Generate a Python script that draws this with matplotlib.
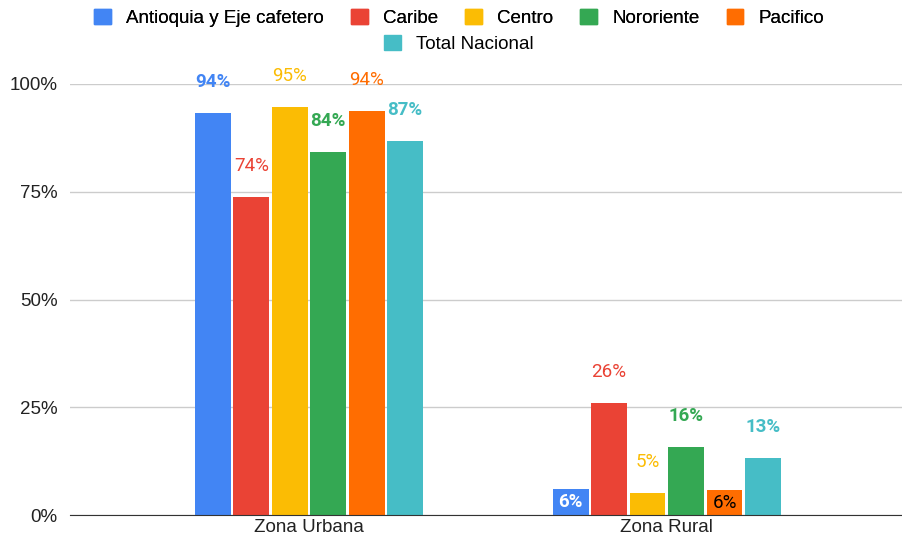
import matplotlib
matplotlib.use('Agg')
import matplotlib.pyplot as plt
from matplotlib.patches import Patch
import numpy as np

# Data
zonas = ['Zona Urbana', 'Zona Rural']
regiones = ['Antioquia y Eje cafetero', 'Caribe', 'Centro', 'Nororiente', 'Pacifico', 'Total Nacional']
urbana = [0.933, 0.738, 0.947, 0.842, 0.937, 0.868]
rural = [0.060, 0.260, 0.051, 0.158, 0.058, 0.132]
etiquetas_urbana = ['94%', '74%', '95%', '84%', '94%', '87%']
etiquetas_rural = ['6%', '26%', '5%', '16%', '6%', '13%']

colores = ['#4285F4', '#EA4335', '#FBBC04', '#34A853', '#FF6D01', '#46BDC6']
negrita = [True, False, False, True, False, True]

W, H = 903, 541
fig = plt.figure(figsize=(W / 100, H / 100), dpi=100)
ax = fig.add_axes([70 / W, 26 / H, (903 - 70) / W, 431 / H])

x = np.arange(len(zonas))
ancho = 0.1
paso = 0.1075
valores = np.array([urbana, rural])  # shape (zonas, regiones)
fs = 13.5

for i, reg in enumerate(regiones):
    pos = x + (i - 2.5) * paso
    ax.bar(pos, valores[:, i], width=ancho, color=colores[i], zorder=3)
    for j in range(len(zonas)):
        v = valores[j, i]
        txt = (etiquetas_urbana if j == 0 else etiquetas_rural)[i]
        peso = 'bold' if negrita[i] else 'normal'
        if j == 1 and i == 0:
            ax.text(pos[j], v / 2, txt, ha='center', va='center', color='white',
                    fontsize=fs, fontweight='bold', family='Roboto', zorder=4)
        elif j == 1 and i == 4:
            ax.text(pos[j], v / 2, txt, ha='center', va='center', color='black',
                    fontsize=fs, family='Roboto', zorder=4)
        else:
            ax.text(pos[j], v + 0.072, txt, ha='center', va='center', color=colores[i],
                    fontsize=fs, fontweight=peso, family='Roboto', zorder=4, clip_on=False)

ax.set_xlim(-0.668, 1.66)
ax.set_ylim(0, 1.0)
ax.set_yticks([0, 0.25, 0.5, 0.75, 1.0])
ax.set_yticklabels(['0%', '25%', '50%', '75%', '100%'], fontsize=fs, family='Liberation Sans')
ax.set_xticks(x)
ax.set_xticklabels(zonas, fontsize=fs, family='Liberation Sans')
ax.tick_params(axis='both', length=0, colors='#222222')
ax.tick_params(axis='y', pad=9)
ax.tick_params(axis='x', pad=3)
ax.grid(axis='y', color='#cccccc', linewidth=1, zorder=0)
for s in ['top', 'right', 'left']:
    ax.spines[s].set_visible(False)
ax.spines['bottom'].set_color('#333333')
ax.spines['bottom'].set_zorder(5)

# Legend in two rows
handles = [Patch(color=c) for c in colores]
leg1 = fig.legend(handles[:5], regiones[:5], loc='center', bbox_to_anchor=(459 / W, 1 - 18 / H),
                  ncol=5, frameon=False, handlelength=0.9, handleheight=0.9, columnspacing=1.45,
                  handletextpad=0.8, prop={'family': 'Liberation Sans', 'size': fs})
leg2 = fig.legend(handles[5:], regiones[5:], loc='center', bbox_to_anchor=(459 / W, 1 - 44 / H),
                  ncol=1, frameon=False, handlelength=0.9, handleheight=0.9,
                  handletextpad=0.8, prop={'family': 'Liberation Sans', 'size': fs})
fig.add_artist(leg1)

fig.savefig('out.png', dpi=100)
